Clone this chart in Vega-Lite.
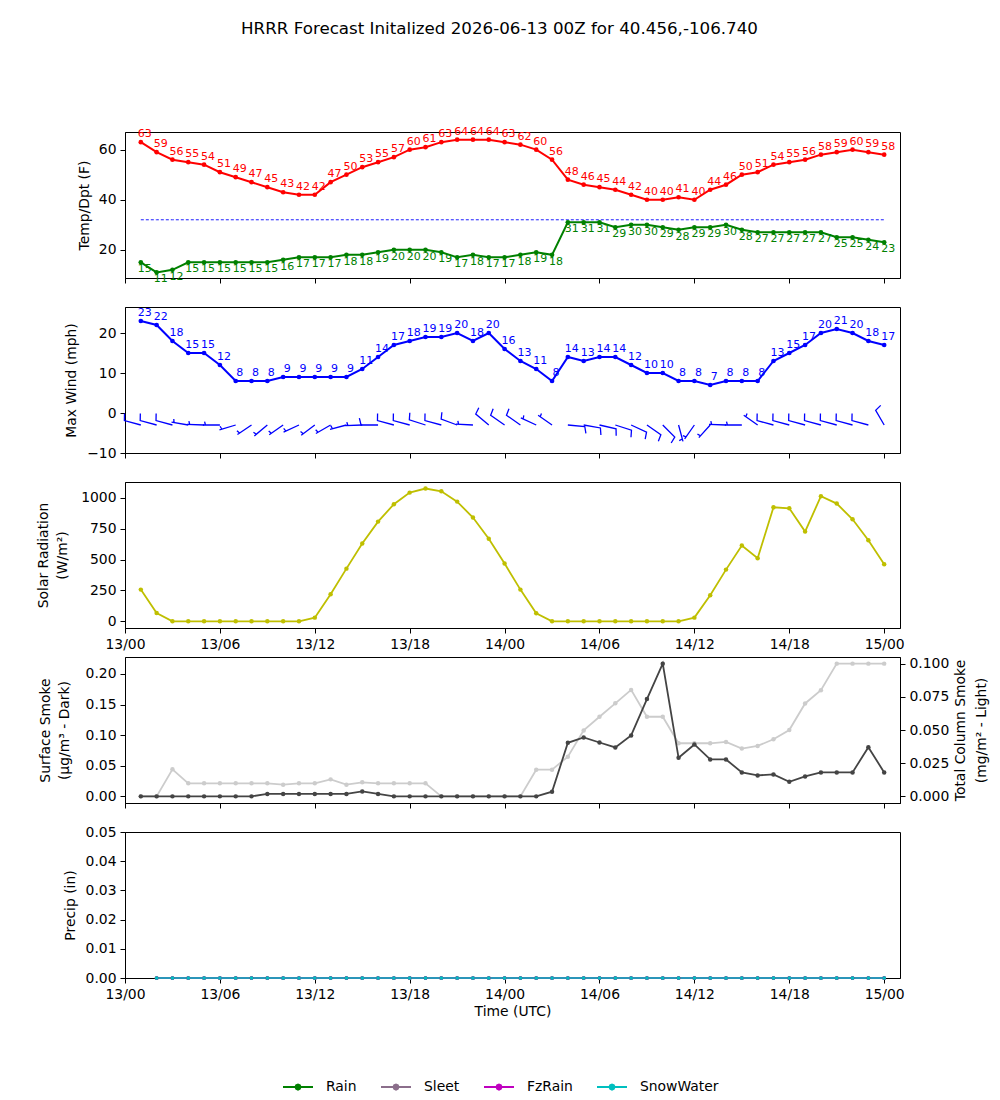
{
  "$schema": "https://vega.github.io/schema/vega-lite/v6.json",
  "padding": {"left": 36, "top": 21, "right": 5, "bottom": 5},
  "title": {"text": "HRRR Forecast Initalized 2026-06-13 00Z for 40.456,-106.740", "fontSize": 16.7, "fontWeight": "normal", "font": "DejaVu Sans", "color": "black", "anchor": "middle", "frame": "group", "dx": -13, "offset": 87},
  "spacing": 29,
  "bounds": "flush",
  "datasets": {
    "met": [
      {"time": "2026-06-13T01:00:00Z", "temp": 63, "dew": 15, "wind": 23, "wdir": 285, "barb": "f", "solar": 257, "sfc": 0, "col": 0},
      {"time": "2026-06-13T02:00:00Z", "temp": 59, "dew": 11, "wind": 22, "wdir": 285, "barb": "f", "solar": 68, "sfc": 0, "col": 0},
      {"time": "2026-06-13T03:00:00Z", "temp": 56, "dew": 12, "wind": 18, "wdir": 285, "barb": "f", "solar": 0, "sfc": 0, "col": 0.0204},
      {"time": "2026-06-13T04:00:00Z", "temp": 55, "dew": 15, "wind": 15, "wdir": 280, "barb": "h", "solar": 0, "sfc": 0, "col": 0.0098},
      {"time": "2026-06-13T05:00:00Z", "temp": 54, "dew": 15, "wind": 15, "wdir": 272, "barb": "h", "solar": 0, "sfc": 0, "col": 0.0098},
      {"time": "2026-06-13T06:00:00Z", "temp": 51, "dew": 15, "wind": 12, "wdir": 270, "barb": "h", "solar": 0, "sfc": 0, "col": 0.0098},
      {"time": "2026-06-13T07:00:00Z", "temp": 49, "dew": 15, "wind": 8, "wdir": 253, "barb": "h", "solar": 0, "sfc": 0, "col": 0.0098},
      {"time": "2026-06-13T08:00:00Z", "temp": 47, "dew": 15, "wind": 8, "wdir": 236, "barb": "h", "solar": 0, "sfc": 0, "col": 0.0098},
      {"time": "2026-06-13T09:00:00Z", "temp": 45, "dew": 15, "wind": 8, "wdir": 230, "barb": "h", "solar": 0, "sfc": 0.004, "col": 0.0098},
      {"time": "2026-06-13T10:00:00Z", "temp": 43, "dew": 16, "wind": 9, "wdir": 235, "barb": "h", "solar": 0, "sfc": 0.004, "col": 0.0088},
      {"time": "2026-06-13T11:00:00Z", "temp": 42, "dew": 17, "wind": 9, "wdir": 245, "barb": "h", "solar": 0, "sfc": 0.004, "col": 0.0098},
      {"time": "2026-06-13T12:00:00Z", "temp": 42, "dew": 17, "wind": 9, "wdir": 233, "barb": "h", "solar": 30, "sfc": 0.004, "col": 0.0098},
      {"time": "2026-06-13T13:00:00Z", "temp": 47, "dew": 17, "wind": 9, "wdir": 240, "barb": "h", "solar": 219, "sfc": 0.004, "col": 0.0128},
      {"time": "2026-06-13T14:00:00Z", "temp": 50, "dew": 18, "wind": 9, "wdir": 255, "barb": "h", "solar": 427, "sfc": 0.004, "col": 0.0088},
      {"time": "2026-06-13T15:00:00Z", "temp": 53, "dew": 18, "wind": 11, "wdir": 268, "barb": "h", "solar": 630, "sfc": 0.008, "col": 0.0106},
      {"time": "2026-06-13T16:00:00Z", "temp": 55, "dew": 19, "wind": 14, "wdir": 270, "barb": "f", "solar": 808, "sfc": 0.004, "col": 0.0098},
      {"time": "2026-06-13T17:00:00Z", "temp": 57, "dew": 20, "wind": 17, "wdir": 285, "barb": "f", "solar": 949, "sfc": 0, "col": 0.0098},
      {"time": "2026-06-13T18:00:00Z", "temp": 60, "dew": 20, "wind": 18, "wdir": 285, "barb": "f", "solar": 1043, "sfc": 0, "col": 0.0098},
      {"time": "2026-06-13T19:00:00Z", "temp": 61, "dew": 20, "wind": 19, "wdir": 288, "barb": "f", "solar": 1076, "sfc": 0, "col": 0.0098},
      {"time": "2026-06-13T20:00:00Z", "temp": 63, "dew": 19, "wind": 19, "wdir": 285, "barb": "f", "solar": 1054, "sfc": 0, "col": 0},
      {"time": "2026-06-13T21:00:00Z", "temp": 64, "dew": 17, "wind": 20, "wdir": 290, "barb": "f", "solar": 970, "sfc": 0, "col": 0},
      {"time": "2026-06-13T22:00:00Z", "temp": 64, "dew": 18, "wind": 18, "wdir": 273, "barb": "h", "solar": 841, "sfc": 0, "col": 0},
      {"time": "2026-06-13T23:00:00Z", "temp": 64, "dew": 17, "wind": 20, "wdir": 310, "barb": "f", "solar": 670, "sfc": 0, "col": 0},
      {"time": "2026-06-14T00:00:00Z", "temp": 63, "dew": 17, "wind": 16, "wdir": 305, "barb": "f", "solar": 468, "sfc": 0, "col": 0},
      {"time": "2026-06-14T01:00:00Z", "temp": 62, "dew": 18, "wind": 13, "wdir": 305, "barb": "f", "solar": 257, "sfc": 0, "col": 0},
      {"time": "2026-06-14T02:00:00Z", "temp": 60, "dew": 19, "wind": 11, "wdir": 295, "barb": "h", "solar": 65, "sfc": 0, "col": 0.0201},
      {"time": "2026-06-14T03:00:00Z", "temp": 56, "dew": 18, "wind": 8, "wdir": 305, "barb": "h", "solar": 0, "sfc": 0.0076, "col": 0.0201},
      {"time": "2026-06-14T04:00:00Z", "temp": 48, "dew": 31, "wind": 14, "wdir": 95, "barb": "f", "solar": 0, "sfc": 0.0875, "col": 0.0299},
      {"time": "2026-06-14T05:00:00Z", "temp": 46, "dew": 31, "wind": 13, "wdir": 100, "barb": "f", "solar": 0, "sfc": 0.0962, "col": 0.0497},
      {"time": "2026-06-14T06:00:00Z", "temp": 45, "dew": 31, "wind": 14, "wdir": 103, "barb": "f", "solar": 0, "sfc": 0.088, "col": 0.06},
      {"time": "2026-06-14T07:00:00Z", "temp": 44, "dew": 29, "wind": 14, "wdir": 108, "barb": "f", "solar": 0, "sfc": 0.08, "col": 0.0701},
      {"time": "2026-06-14T08:00:00Z", "temp": 42, "dew": 30, "wind": 12, "wdir": 115, "barb": "f", "solar": 0, "sfc": 0.0995, "col": 0.0802},
      {"time": "2026-06-14T09:00:00Z", "temp": 40, "dew": 30, "wind": 10, "wdir": 125, "barb": "f", "solar": 0, "sfc": 0.159, "col": 0.06},
      {"time": "2026-06-14T10:00:00Z", "temp": 40, "dew": 29, "wind": 10, "wdir": 135, "barb": "f", "solar": 0, "sfc": 0.2168, "col": 0.06},
      {"time": "2026-06-14T11:00:00Z", "temp": 41, "dew": 28, "wind": 8, "wdir": 165, "barb": "h", "solar": 0, "sfc": 0.063, "col": 0.04},
      {"time": "2026-06-14T12:00:00Z", "temp": 40, "dew": 29, "wind": 8, "wdir": 215, "barb": "h", "solar": 30, "sfc": 0.0848, "col": 0.04},
      {"time": "2026-06-14T13:00:00Z", "temp": 44, "dew": 29, "wind": 7, "wdir": 222, "barb": "h", "solar": 211, "sfc": 0.0603, "col": 0.04},
      {"time": "2026-06-14T14:00:00Z", "temp": 46, "dew": 30, "wind": 8, "wdir": 272, "barb": "h", "solar": 419, "sfc": 0.0603, "col": 0.041},
      {"time": "2026-06-14T15:00:00Z", "temp": 50, "dew": 28, "wind": 8, "wdir": 270, "barb": "h", "solar": 614, "sfc": 0.039, "col": 0.036},
      {"time": "2026-06-14T16:00:00Z", "temp": 51, "dew": 27, "wind": 8, "wdir": 305, "barb": "h", "solar": 511, "sfc": 0.0342, "col": 0.038},
      {"time": "2026-06-14T17:00:00Z", "temp": 54, "dew": 27, "wind": 13, "wdir": 285, "barb": "f", "solar": 924, "sfc": 0.0359, "col": 0.043},
      {"time": "2026-06-14T18:00:00Z", "temp": 55, "dew": 27, "wind": 15, "wdir": 285, "barb": "f", "solar": 916, "sfc": 0.0239, "col": 0.05},
      {"time": "2026-06-14T19:00:00Z", "temp": 56, "dew": 27, "wind": 17, "wdir": 285, "barb": "f", "solar": 727, "sfc": 0.0326, "col": 0.07},
      {"time": "2026-06-14T20:00:00Z", "temp": 58, "dew": 27, "wind": 20, "wdir": 285, "barb": "f", "solar": 1014, "sfc": 0.0391, "col": 0.08},
      {"time": "2026-06-14T21:00:00Z", "temp": 59, "dew": 25, "wind": 21, "wdir": 285, "barb": "f", "solar": 954, "sfc": 0.0391, "col": 0.1},
      {"time": "2026-06-14T22:00:00Z", "temp": 60, "dew": 25, "wind": 20, "wdir": 285, "barb": "f", "solar": 827, "sfc": 0.0391, "col": 0.1},
      {"time": "2026-06-14T23:00:00Z", "temp": 59, "dew": 24, "wind": 18, "wdir": 285, "barb": "f", "solar": 657, "sfc": 0.0804, "col": 0.1},
      {"time": "2026-06-15T00:00:00Z", "temp": 58, "dew": 23, "wind": 17, "wdir": 330, "barb": "f", "solar": 462, "sfc": 0.0391, "col": 0.1}
    ],
    "precip": [
      {"time": "2026-06-13T02:00:00Z", "Rain": 0, "Sleet": 0, "FzRain": 0, "SnowWater": 0},
      {"time": "2026-06-13T03:00:00Z", "Rain": 0, "Sleet": 0, "FzRain": 0, "SnowWater": 0},
      {"time": "2026-06-13T04:00:00Z", "Rain": 0, "Sleet": 0, "FzRain": 0, "SnowWater": 0},
      {"time": "2026-06-13T05:00:00Z", "Rain": 0, "Sleet": 0, "FzRain": 0, "SnowWater": 0},
      {"time": "2026-06-13T06:00:00Z", "Rain": 0, "Sleet": 0, "FzRain": 0, "SnowWater": 0},
      {"time": "2026-06-13T07:00:00Z", "Rain": 0, "Sleet": 0, "FzRain": 0, "SnowWater": 0},
      {"time": "2026-06-13T08:00:00Z", "Rain": 0, "Sleet": 0, "FzRain": 0, "SnowWater": 0},
      {"time": "2026-06-13T09:00:00Z", "Rain": 0, "Sleet": 0, "FzRain": 0, "SnowWater": 0},
      {"time": "2026-06-13T10:00:00Z", "Rain": 0, "Sleet": 0, "FzRain": 0, "SnowWater": 0},
      {"time": "2026-06-13T11:00:00Z", "Rain": 0, "Sleet": 0, "FzRain": 0, "SnowWater": 0},
      {"time": "2026-06-13T12:00:00Z", "Rain": 0, "Sleet": 0, "FzRain": 0, "SnowWater": 0},
      {"time": "2026-06-13T13:00:00Z", "Rain": 0, "Sleet": 0, "FzRain": 0, "SnowWater": 0},
      {"time": "2026-06-13T14:00:00Z", "Rain": 0, "Sleet": 0, "FzRain": 0, "SnowWater": 0},
      {"time": "2026-06-13T15:00:00Z", "Rain": 0, "Sleet": 0, "FzRain": 0, "SnowWater": 0},
      {"time": "2026-06-13T16:00:00Z", "Rain": 0, "Sleet": 0, "FzRain": 0, "SnowWater": 0},
      {"time": "2026-06-13T17:00:00Z", "Rain": 0, "Sleet": 0, "FzRain": 0, "SnowWater": 0},
      {"time": "2026-06-13T18:00:00Z", "Rain": 0, "Sleet": 0, "FzRain": 0, "SnowWater": 0},
      {"time": "2026-06-13T19:00:00Z", "Rain": 0, "Sleet": 0, "FzRain": 0, "SnowWater": 0},
      {"time": "2026-06-13T20:00:00Z", "Rain": 0, "Sleet": 0, "FzRain": 0, "SnowWater": 0},
      {"time": "2026-06-13T21:00:00Z", "Rain": 0, "Sleet": 0, "FzRain": 0, "SnowWater": 0},
      {"time": "2026-06-13T22:00:00Z", "Rain": 0, "Sleet": 0, "FzRain": 0, "SnowWater": 0},
      {"time": "2026-06-13T23:00:00Z", "Rain": 0, "Sleet": 0, "FzRain": 0, "SnowWater": 0},
      {"time": "2026-06-14T00:00:00Z", "Rain": 0, "Sleet": 0, "FzRain": 0, "SnowWater": 0},
      {"time": "2026-06-14T01:00:00Z", "Rain": 0, "Sleet": 0, "FzRain": 0, "SnowWater": 0},
      {"time": "2026-06-14T02:00:00Z", "Rain": 0, "Sleet": 0, "FzRain": 0, "SnowWater": 0},
      {"time": "2026-06-14T03:00:00Z", "Rain": 0, "Sleet": 0, "FzRain": 0, "SnowWater": 0},
      {"time": "2026-06-14T04:00:00Z", "Rain": 0, "Sleet": 0, "FzRain": 0, "SnowWater": 0},
      {"time": "2026-06-14T05:00:00Z", "Rain": 0, "Sleet": 0, "FzRain": 0, "SnowWater": 0},
      {"time": "2026-06-14T06:00:00Z", "Rain": 0, "Sleet": 0, "FzRain": 0, "SnowWater": 0},
      {"time": "2026-06-14T07:00:00Z", "Rain": 0, "Sleet": 0, "FzRain": 0, "SnowWater": 0},
      {"time": "2026-06-14T08:00:00Z", "Rain": 0, "Sleet": 0, "FzRain": 0, "SnowWater": 0},
      {"time": "2026-06-14T09:00:00Z", "Rain": 0, "Sleet": 0, "FzRain": 0, "SnowWater": 0},
      {"time": "2026-06-14T10:00:00Z", "Rain": 0, "Sleet": 0, "FzRain": 0, "SnowWater": 0},
      {"time": "2026-06-14T11:00:00Z", "Rain": 0, "Sleet": 0, "FzRain": 0, "SnowWater": 0},
      {"time": "2026-06-14T12:00:00Z", "Rain": 0, "Sleet": 0, "FzRain": 0, "SnowWater": 0},
      {"time": "2026-06-14T13:00:00Z", "Rain": 0, "Sleet": 0, "FzRain": 0, "SnowWater": 0},
      {"time": "2026-06-14T14:00:00Z", "Rain": 0, "Sleet": 0, "FzRain": 0, "SnowWater": 0},
      {"time": "2026-06-14T15:00:00Z", "Rain": 0, "Sleet": 0, "FzRain": 0, "SnowWater": 0},
      {"time": "2026-06-14T16:00:00Z", "Rain": 0, "Sleet": 0, "FzRain": 0, "SnowWater": 0},
      {"time": "2026-06-14T17:00:00Z", "Rain": 0, "Sleet": 0, "FzRain": 0, "SnowWater": 0},
      {"time": "2026-06-14T18:00:00Z", "Rain": 0, "Sleet": 0, "FzRain": 0, "SnowWater": 0},
      {"time": "2026-06-14T19:00:00Z", "Rain": 0, "Sleet": 0, "FzRain": 0, "SnowWater": 0},
      {"time": "2026-06-14T20:00:00Z", "Rain": 0, "Sleet": 0, "FzRain": 0, "SnowWater": 0},
      {"time": "2026-06-14T21:00:00Z", "Rain": 0, "Sleet": 0, "FzRain": 0, "SnowWater": 0},
      {"time": "2026-06-14T22:00:00Z", "Rain": 0, "Sleet": 0, "FzRain": 0, "SnowWater": 0},
      {"time": "2026-06-14T23:00:00Z", "Rain": 0, "Sleet": 0, "FzRain": 0, "SnowWater": 0},
      {"time": "2026-06-15T00:00:00Z", "Rain": 0, "Sleet": 0, "FzRain": 0, "SnowWater": 0}
    ]
  },
  "vconcat": [
    {
      "width": 775, "height": 146,
      "data": {"name": "met"},
      "encoding": {"x": {"field": "time", "type": "temporal", "scale": {"type": "utc", "domain": [1781308800000, 1781485200000]}, "axis": {"format": "%d/%H", "values": [1781308800000, 1781330400000, 1781352000000, 1781373600000, 1781395200000, 1781416800000, 1781438400000, 1781460000000, 1781481600000], "labels": false, "title": null}}},
      "layer": [
        {"mark": {"type": "line", "color": "blue", "strokeDash": [3, 2], "strokeWidth": 0.9}, "encoding": {"y": {"datum": 32, "type": "quantitative", "scale": {"domain": [8.75, 67.05], "nice": false, "zero": false}, "axis": {"title": "Temp/Dpt (F)", "values": [20, 40, 60], "titlePadding": 7}}}},
        {"mark": {"type": "line", "color": "red", "strokeWidth": 2, "point": {"filled": true, "size": 22, "color": "red", "opacity": 1}}, "encoding": {"y": {"field": "temp", "type": "quantitative", "axis": {"title": "Temp/Dpt (F)", "values": [20, 40, 60], "titlePadding": 7}}}},
        {"mark": {"type": "text", "color": "red", "fontSize": 11, "align": "center", "dx": 4, "dy": -3, "baseline": "bottom"}, "encoding": {"y": {"field": "temp", "type": "quantitative", "axis": {"title": "Temp/Dpt (F)", "values": [20, 40, 60], "titlePadding": 7}}, "text": {"field": "temp", "type": "quantitative"}}},
        {"mark": {"type": "line", "color": "green", "strokeWidth": 2, "point": {"filled": true, "size": 22, "color": "green", "opacity": 1}}, "encoding": {"y": {"field": "dew", "type": "quantitative", "axis": {"title": "Temp/Dpt (F)", "values": [20, 40, 60], "titlePadding": 7}}}},
        {"mark": {"type": "text", "color": "green", "fontSize": 11, "align": "center", "dx": 4, "dy": 1, "baseline": "top"}, "encoding": {"y": {"field": "dew", "type": "quantitative", "axis": {"title": "Temp/Dpt (F)", "values": [20, 40, 60], "titlePadding": 7}}, "text": {"field": "dew", "type": "quantitative"}}}
      ]
    },
    {
      "width": 775, "height": 146,
      "data": {"name": "met"},
      "encoding": {"x": {"field": "time", "type": "temporal", "scale": {"type": "utc", "domain": [1781308800000, 1781485200000]}, "axis": {"format": "%d/%H", "values": [1781308800000, 1781330400000, 1781352000000, 1781373600000, 1781395200000, 1781416800000, 1781438400000, 1781460000000, 1781481600000], "labels": false, "title": null}}},
      "layer": [
        {"mark": {"type": "line", "color": "blue", "strokeWidth": 2, "point": {"filled": true, "size": 22, "color": "blue", "opacity": 1}}, "encoding": {"y": {"field": "wind", "type": "quantitative", "scale": {"domain": [-10, 26.5], "nice": false, "zero": false}, "axis": {"title": "Max Wind (mph)", "values": [-10, 0, 10, 20], "titlePadding": 8}}}},
        {"mark": {"type": "text", "color": "blue", "fontSize": 11, "align": "center", "dx": 4, "dy": -3, "baseline": "bottom"}, "encoding": {"y": {"field": "wind", "type": "quantitative", "axis": {"title": "Max Wind (mph)", "values": [-10, 0, 10, 20], "titlePadding": 8}}, "text": {"field": "wind", "type": "quantitative"}}},
        {"mark": {"type": "point", "filled": false, "color": "blue", "strokeWidth": 1.3, "size": 1156, "opacity": 1}, "encoding": {"y": {"datum": -3, "type": "quantitative", "axis": {"title": "Max Wind (mph)", "values": [-10, 0, 10, 20], "titlePadding": 8}}, "shape": {"field": "barb", "type": "nominal", "scale": {"domain": ["h", "f"], "range": ["M0,0L0,-1M0,-0.85L0.2,-0.9", "M0,0L0,-1L0.4,-1.1"]}, "legend": null}, "angle": {"field": "wdir", "type": "quantitative", "scale": {"domain": [0, 360], "range": [0, 360], "zero": true}, "legend": null}}}
      ]
    },
    {
      "width": 775, "height": 146,
      "data": {"name": "met"},
      "mark": {"type": "line", "color": "#bfbf00", "strokeWidth": 1.8, "point": {"filled": true, "size": 20, "color": "#bfbf00", "opacity": 1}},
      "encoding": {
        "x": {"field": "time", "type": "temporal", "scale": {"type": "utc", "domain": [1781308800000, 1781485200000]}, "axis": {"format": "%d/%H", "values": [1781308800000, 1781330400000, 1781352000000, 1781373600000, 1781395200000, 1781416800000, 1781438400000, 1781460000000, 1781481600000], "labels": true, "title": null}},
        "y": {"field": "solar", "type": "quantitative", "scale": {"domain": [-54, 1129], "nice": false, "zero": false}, "axis": {"title": ["Solar Radiation", "(W/m²)"], "values": [0, 250, 500, 750, 1000], "format": "d", "titlePadding": 11}}
      }
    },
    {
      "width": 775, "height": 146,
      "data": {"name": "met"},
      "encoding": {"x": {"field": "time", "type": "temporal", "scale": {"type": "utc", "domain": [1781308800000, 1781485200000]}, "axis": {"format": "%d/%H", "values": [1781308800000, 1781330400000, 1781352000000, 1781373600000, 1781395200000, 1781416800000, 1781438400000, 1781460000000, 1781481600000], "labels": false, "title": null}}},
      "layer": [
        {"mark": {"type": "line", "color": "#cccccc", "strokeWidth": 1.8, "point": {"filled": true, "size": 20, "color": "#cccccc", "opacity": 1}}, "encoding": {"y": {"field": "col", "type": "quantitative", "scale": {"domain": [-0.005, 0.105], "nice": false, "zero": false}, "axis": {"orient": "right", "title": ["Total Column Smoke", "(mg/m² - Light)"], "values": [0, 0.025, 0.05, 0.075, 0.1], "format": ".3f", "titleAngle": 270, "titleBaseline": "top", "titlePadding": -16, "titleLineHeight": 21}}}},
        {"mark": {"type": "line", "color": "#444444", "strokeWidth": 1.8, "point": {"filled": true, "size": 20, "color": "#444444", "opacity": 1}}, "encoding": {"y": {"field": "sfc", "type": "quantitative", "scale": {"domain": [-0.01084, 0.2277], "nice": false, "zero": false}, "axis": {"orient": "left", "title": ["Surface Smoke", "(μg/m³ - Dark)"], "values": [0, 0.05, 0.1, 0.15, 0.2], "format": ".2f", "titlePadding": 14}}}}
      ],
      "resolve": {"scale": {"y": "independent"}}
    },
    {
      "width": 775, "height": 146,
      "data": {"name": "precip"},
      "transform": [{"fold": ["Rain", "Sleet", "FzRain", "SnowWater"], "as": ["type", "amount"]}],
      "mark": {"type": "line", "strokeWidth": 1.5, "point": {"filled": true, "size": 14, "opacity": 1}},
      "encoding": {
        "x": {"field": "time", "type": "temporal", "scale": {"type": "utc", "domain": [1781308800000, 1781485200000]}, "axis": {"format": "%d/%H", "values": [1781308800000, 1781330400000, 1781352000000, 1781373600000, 1781395200000, 1781416800000, 1781438400000, 1781460000000, 1781481600000], "labels": true, "title": "Time (UTC)"}},
        "y": {"field": "amount", "type": "quantitative", "scale": {"domain": [0, 0.05], "nice": false, "zero": false}, "axis": {"title": "Precip (in)", "values": [0, 0.01, 0.02, 0.03, 0.04, 0.05], "format": ".2f", "titlePadding": 8}},
        "color": {"field": "type", "type": "nominal", "scale": {"domain": ["Rain", "Sleet", "FzRain", "SnowWater"], "range": ["#008000", "#8b6e8b", "#bf00bf", "#00bfbf"]},
          "legend": {"title": null, "orient": "none", "direction": "horizontal", "legendX": 157, "legendY": 939, "symbolType": "M-1,0L1,0M-0.17,0L-0.12,-0.12L0,-0.17L0.12,-0.12L0.17,0L0.12,0.12L0,0.17L-0.12,0.12Z", "symbolSize": 900, "symbolStrokeWidth": 2, "labelFontSize": 13.9, "labelOffset": 12, "columnPadding": 20, "symbolOpacity": 1}}
      }
    }
  ],
  "config": {
    "font": "DejaVu Sans",
    "view": {"stroke": "black", "strokeWidth": 1},
    "axis": {"labelFontSize": 13.9, "titleFontSize": 13.9, "titleFontWeight": "normal", "labelColor": "black", "titleColor": "black", "tickColor": "black", "domainColor": "black", "tickSize": 5, "labelPadding": 4, "grid": false, "labelFont": "DejaVu Sans", "titleFont": "DejaVu Sans", "titleLineHeight": 19},
    "axisX": {"labelFlush": false, "titlePadding": 4},
    "legend": {"labelFont": "DejaVu Sans", "labelColor": "black"}
  }
}
